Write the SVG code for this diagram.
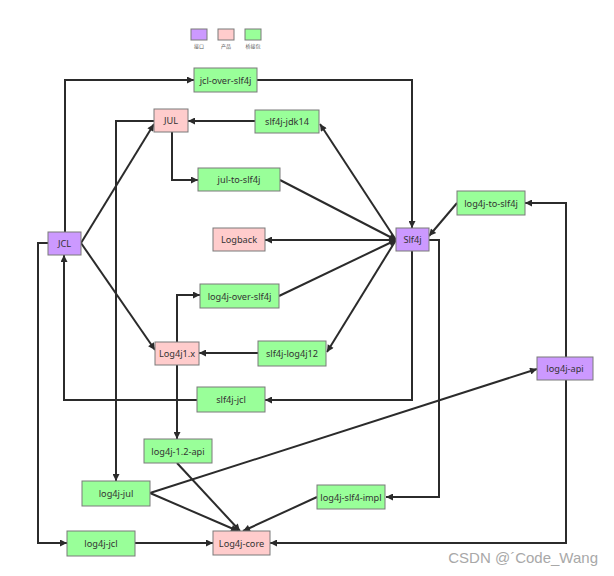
<svg xmlns="http://www.w3.org/2000/svg" width="614" height="576" viewBox="0 0 614 576">
<style>
.n rect{stroke:#7a7a7a;stroke-width:1}
.i rect{fill:#cc99ff}
.p rect{fill:#ffcccc}
.b rect{fill:#99ff99}
.n text{font-family:"Noto Sans","DejaVu Sans",sans-serif;font-size:9.2px;fill:#333;text-anchor:middle;dominant-baseline:central}
.c path{fill:none;stroke:#2b2b2b;stroke-width:2}
.lg{font-family:"Noto Sans CJK SC",sans-serif;font-size:5px;fill:#555;text-anchor:middle}
</style>
<defs>
<marker id="a" viewBox="0 0 10 10" refX="10" refY="5" markerWidth="9" markerHeight="7" markerUnits="userSpaceOnUse" orient="auto"><path d="M0,0 L10,5 L0,10 z" fill="#2b2b2b"/></marker>
</defs>
<rect width="614" height="576" fill="#fff"/>
<g id="legend">
<rect x="191" y="29" width="16" height="11" fill="#cc99ff" stroke="#7a7a7a"/>
<rect x="218" y="29" width="16" height="11" fill="#ffcccc" stroke="#7a7a7a"/>
<rect x="245" y="29" width="16" height="11" fill="#99ff99" stroke="#7a7a7a"/>
<text class="lg" x="199" y="48">接口</text>
<text class="lg" x="226" y="48">产品</text>
<text class="lg" x="253" y="48">桥接包</text>
</g>
<g id="connectors" class="c">
<path d="M65,232 V80 H194" marker-end="url(#a)"/>
<path d="M257,80 H412 V228" marker-end="url(#a)"/>
<path d="M255,121 H188" marker-end="url(#a)"/>
<path d="M172,132 V180 H198" marker-end="url(#a)"/>
<path d="M280,180 L396,240" marker-end="url(#a)"/>
<path d="M396,240 L320,124" marker-end="url(#a)"/>
<path d="M396,240 H265" marker-end="url(#a)"/>
<path d="M279,296 L396,240" marker-end="url(#a)"/>
<path d="M396,240 L327,352" marker-end="url(#a)"/>
<path d="M258,353 H199" marker-end="url(#a)"/>
<path d="M177,342 V295 H200" marker-end="url(#a)"/>
<path d="M81,243 L154,124" marker-end="url(#a)"/>
<path d="M81,243 L155,350" marker-end="url(#a)"/>
<path d="M197,400 H64 V255" marker-end="url(#a)"/>
<path d="M412,251 V400 H265" marker-end="url(#a)"/>
<path d="M154,121 H116 V481" marker-end="url(#a)"/>
<path d="M177,365 V439" marker-end="url(#a)"/>
<path d="M177,463 L240,531" marker-end="url(#a)"/>
<path d="M150,493 L238,531" marker-end="url(#a)"/>
<path d="M150,493 L537,369" marker-end="url(#a)"/>
<path d="M317,497 L243,531" marker-end="url(#a)"/>
<path d="M429,240 H439 V497 H386" marker-end="url(#a)"/>
<path d="M135,543 H213" marker-end="url(#a)"/>
<path d="M48,243 H38 V543 H67" marker-end="url(#a)"/>
<path d="M566,380 V543 H270" marker-end="url(#a)"/>
<path d="M566,357 V203 H525" marker-end="url(#a)"/>
<path d="M457,203 L429,236" marker-end="url(#a)"/>
</g>
<g id="jcl-over-slf4j" class="n b"><rect x="194" y="68" width="63" height="24"/><text x="225.5" y="80">jcl-over-slf4j</text></g>
<g id="JUL" class="n p"><rect x="154" y="109" width="34" height="23"/><text x="171" y="120.5">JUL</text></g>
<g id="slf4j-jdk14" class="n b"><rect x="255" y="110" width="64" height="23"/><text x="287" y="121.5">slf4j-jdk14</text></g>
<g id="jul-to-slf4j" class="n b"><rect x="198" y="168" width="82" height="23"/><text x="239" y="179.5">jul-to-slf4j</text></g>
<g id="Logback" class="n p"><rect x="213" y="228" width="52" height="23"/><text x="239" y="239.5">Logback</text></g>
<g id="Slf4j" class="n i"><rect x="396" y="228" width="33" height="23"/><text x="412.5" y="239.5">Slf4j</text></g>
<g id="log4j-to-slf4j" class="n b"><rect x="457" y="191" width="68" height="24"/><text x="491" y="203">log4j-to-slf4j</text></g>
<g id="JCL" class="n i"><rect x="48" y="232" width="33" height="23"/><text x="64.5" y="243.5">JCL</text></g>
<g id="log4j-over-slf4j" class="n b"><rect x="200" y="284" width="79" height="24"/><text x="239.5" y="296">log4j-over-slf4j</text></g>
<g id="Log4j1.x" class="n p"><rect x="155" y="342" width="44" height="23"/><text x="177" y="353.5">Log4j1.x</text></g>
<g id="slf4j-log4j12" class="n b"><rect x="258" y="341" width="68" height="25"/><text x="292" y="353.5">slf4j-log4j12</text></g>
<g id="slf4j-jcl" class="n b"><rect x="197" y="387" width="68" height="25"/><text x="231" y="399.5">slf4j-jcl</text></g>
<g id="log4j-api" class="n i"><rect x="537" y="357" width="56" height="23"/><text x="565" y="368.5">log4j-api</text></g>
<g id="log4j-1.2-api" class="n b"><rect x="144" y="439" width="68" height="24"/><text x="178" y="451">log4j-1.2-api</text></g>
<g id="log4j-jul" class="n b"><rect x="82" y="481" width="68" height="25"/><text x="116" y="493.5">log4j-jul</text></g>
<g id="log4j-slf4-impl" class="n b"><rect x="317" y="485" width="68" height="24"/><text x="351" y="497">log4j-slf4-impl</text></g>
<g id="log4j-jcl" class="n b"><rect x="67" y="531" width="68" height="25"/><text x="101" y="543.5">log4j-jcl</text></g>
<g id="Log4j-core" class="n p"><rect x="213" y="531" width="57" height="24"/><text x="241.5" y="543">Log4j-core</text></g>
<text x="598" y="563" font-family="Liberation Sans,sans-serif" font-size="15" fill="#a8a8a8" text-anchor="end">CSDN @´Code_Wang</text>
</svg>
